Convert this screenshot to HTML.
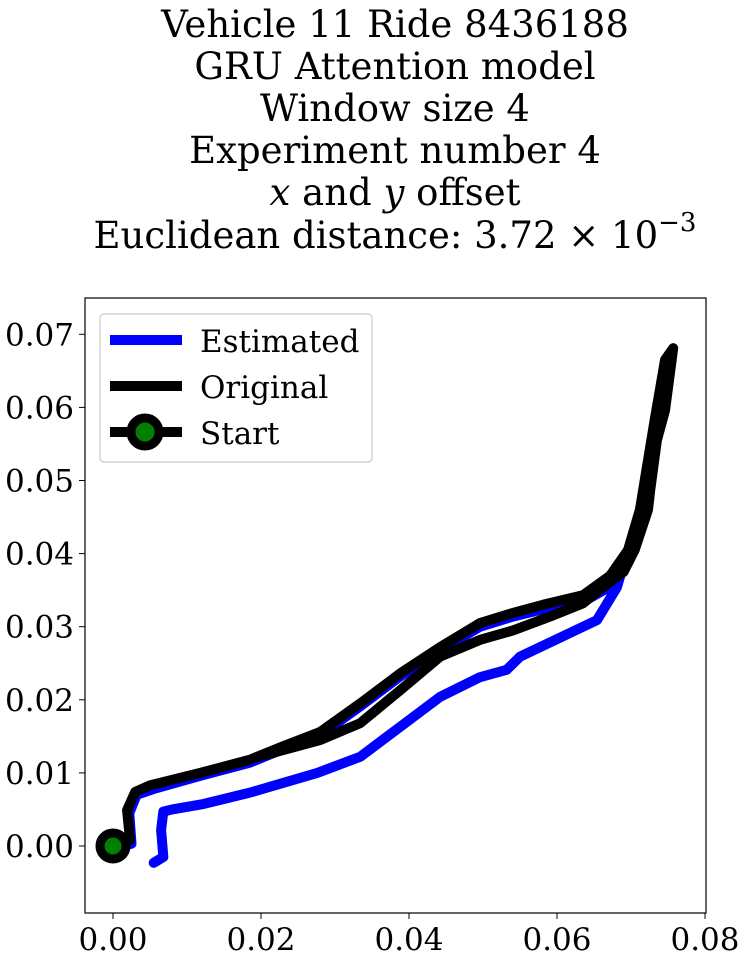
<!DOCTYPE html>
<html><head><meta charset="utf-8"><style>
html,body{margin:0;padding:0;background:#fff;}
svg{display:block;font-family:"DejaVu Serif","Liberation Serif",serif;}
</style></head><body>
<svg id="chart" width="746" height="961">
<g font-size="37" text-anchor="middle" fill="#000">
<text x="395" y="37">Vehicle 11 Ride 8436188</text>
<text x="395" y="79">GRU Attention model</text>
<text x="395" y="121">Window size 4</text>
<text x="395" y="163">Experiment number 4</text>
<text x="395" y="205"><tspan font-style="italic">x</tspan> and <tspan font-style="italic">y</tspan> offset</text>
<text x="395" y="248">Euclidean distance: 3.72 × 10<tspan dy="-17" font-size="26">−3</tspan></text>
</g>
<rect x="85" y="298" width="621" height="615" fill="none" stroke="#000" stroke-width="1.2"/>
<g id="xticks"></g>
<g id="yticks"></g>
<g id="series"></g>
<g>
<rect x="100" y="314" width="272" height="148" rx="4" fill="#fff" stroke="#ccc" stroke-width="1.2"/>
<line x1="110" y1="340" x2="182" y2="340" stroke="#0000ff" stroke-width="10"/>
<text x="200" y="352" font-size="31">Estimated</text>
<line x1="110" y1="386" x2="182" y2="386" stroke="#000" stroke-width="10"/>
<text x="200" y="398" font-size="31">Original</text>
<line x1="110" y1="432" x2="182" y2="432" stroke="#000" stroke-width="10"/>
<circle cx="145" cy="432" r="14" fill="#008000" stroke="#000" stroke-width="9"/>
<text x="200" y="444" font-size="31">Start</text>
</g>
</svg>
<script>
const xTicks=[0,0.02,0.04,0.06,0.08];
const xTickLabels=["0.00","0.02","0.04","0.06","0.08"];
const yTicks=[0,0.01,0.02,0.03,0.04,0.05,0.06,0.07];
const yTickLabels=["0.00","0.01","0.02","0.03","0.04","0.05","0.06","0.07"];
const estX=[0.0005,0.0025,0.0022,0.0032,0.0055,0.0118,0.0185,0.0226,0.0280,0.0334,0.0388,0.0442,0.0496,0.0541,0.0581,0.0635,0.0672,0.0696,0.0712,0.0722,0.0735,0.0745,0.0735,0.073,0.072,0.0705,0.069,0.0681,0.0654,0.0550,0.0532,0.0496,0.0442,0.0388,0.0334,0.0276,0.0185,0.0120,0.0080,0.0068,0.0065,0.0068,0.0055];
const estY=[0,0.0003,0.0045,0.0070,0.0078,0.0096,0.0114,0.0131,0.0152,0.0191,0.0232,0.0268,0.0300,0.0314,0.0324,0.0334,0.0355,0.0390,0.0450,0.0520,0.0580,0.0622,0.060,0.055,0.048,0.042,0.0385,0.0354,0.0309,0.0259,0.0241,0.0231,0.0204,0.0163,0.0122,0.0100,0.0073,0.0057,0.0050,0.0047,0.0022,-0.0015,-0.0023];
const origX=[0,0.0023,0.0019,0.0030,0.0050,0.0118,0.0185,0.0226,0.0280,0.0334,0.0388,0.0442,0.0496,0.0541,0.0581,0.0635,0.0672,0.0696,0.0712,0.0732,0.0746,0.0757,0.0755,0.0746,0.0735,0.0726,0.0723,0.0705,0.0690,0.0662,0.0635,0.0591,0.0541,0.0496,0.0442,0.0388,0.0334,0.0280,0.0200];
const origY=[0,0.0008,0.0049,0.0074,0.0083,0.0100,0.0118,0.0135,0.0156,0.0195,0.0236,0.0272,0.0305,0.0319,0.0330,0.0343,0.0370,0.0405,0.0460,0.0583,0.0665,0.0681,0.0665,0.0596,0.0555,0.0487,0.0460,0.0405,0.0375,0.0354,0.0332,0.0314,0.0295,0.0282,0.0259,0.0213,0.0168,0.0145,0.0123];
const startX=[0], startY=[0];
const NS="http://www.w3.org/2000/svg";
function sx(v){return 113+7400*v;}
function sy(v){return 846-7310*v;}
const xg=document.getElementById('xticks'), yg=document.getElementById('yticks'), sg=document.getElementById('series');
xTicks.forEach((t,i)=>{
 const l=document.createElementNS(NS,'line');
 l.setAttribute('x1',sx(t));l.setAttribute('x2',sx(t));l.setAttribute('y1',913);l.setAttribute('y2',919);l.setAttribute('stroke','#000');
 
 
 xg.appendChild(l);
 const tx=document.createElementNS(NS,'text');
 tx.setAttribute('x',sx(t));tx.setAttribute('y',950);tx.setAttribute('font-size','31');tx.setAttribute('text-anchor','middle');
 tx.textContent=xTickLabels[i];
 
 
 xg.appendChild(tx);
});
yTicks.forEach((t,i)=>{
 const l=document.createElementNS(NS,'line');
 l.setAttribute('x1',79);l.setAttribute('x2',85);l.setAttribute('y1',sy(t));l.setAttribute('y2',sy(t));l.setAttribute('stroke','#000');
 
 
 yg.appendChild(l);
 const tx=document.createElementNS(NS,'text');
 tx.setAttribute('x',74);tx.setAttribute('y',sy(t)+11);tx.setAttribute('font-size','31');tx.setAttribute('text-anchor','end');
 tx.textContent=yTickLabels[i];
 
 
 yg.appendChild(tx);
});
function poly(xs,ys,color,name){
 const p=document.createElementNS(NS,'polyline');
 p.setAttribute('points',xs.map((x,i)=>sx(x)+','+sy(ys[i])).join(' '));
 p.setAttribute('fill','none');p.setAttribute('stroke',color);p.setAttribute('stroke-width','10');
 p.setAttribute('stroke-linejoin','round');p.setAttribute('stroke-linecap','round');
 
 
 sg.appendChild(p);
}
poly(estX,estY,'#0000ff','estimated-line');
poly(origX,origY,'#000','original-line');
const c=document.createElementNS(NS,'circle');
c.setAttribute('cx',sx(startX[0]));c.setAttribute('cy',sy(startY[0]));c.setAttribute('r',13);
c.setAttribute('fill','#008000');c.setAttribute('stroke','#000');c.setAttribute('stroke-width','9');


sg.appendChild(c);
</script>
</body></html>
